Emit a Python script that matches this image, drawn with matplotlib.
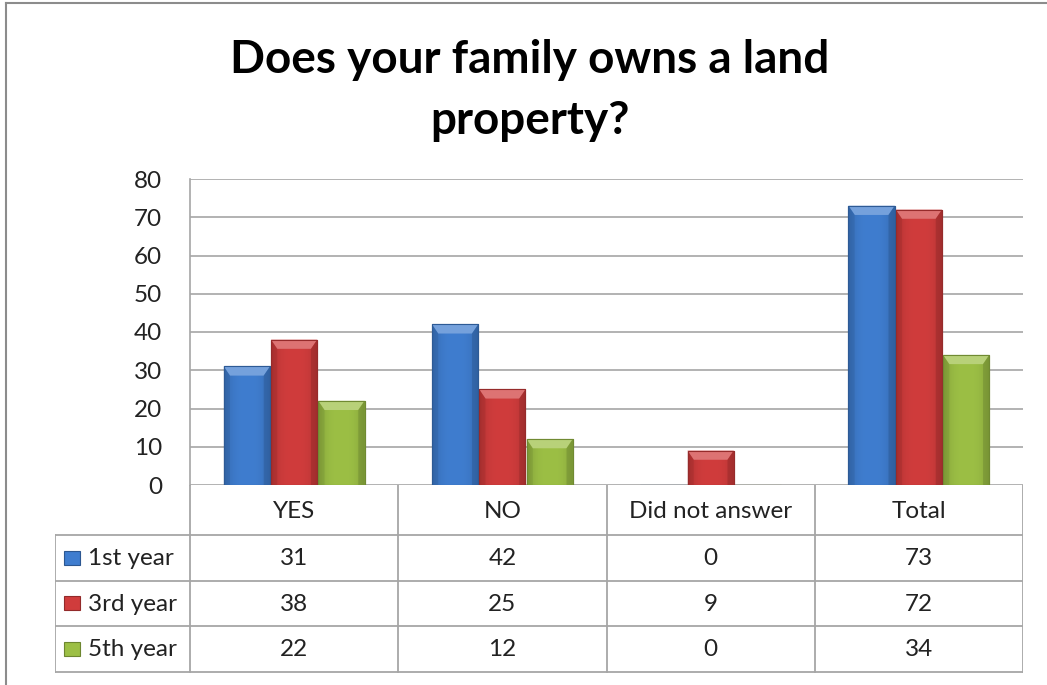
"""
Clustered bar chart with an Excel-style data table underneath:
land property ownership by year of study.
"""
import matplotlib

matplotlib.use("Agg")
import matplotlib.pyplot as plt
import matplotlib.colors as mcolors
import numpy as np
from matplotlib.patches import Polygon, Rectangle

plt.rcParams["font.family"] = ["Lato", "DejaVu Sans"]

TITLE = "Does your family owns a land\nproperty?"
CATEGORIES = ["YES", "NO", "Did not answer", "Total"]
SERIES = ["1st year", "3rd year", "5th year"]
FIRST_YEAR = [31, 42, 0, 73]
THIRD_YEAR = [38, 25, 9, 72]
FIFTH_YEAR = [22, 12, 0, 34]
Y_TICKS = [0, 10, 20, 30, 40, 50, 60, 70, 80]

COLORS = ["#3f7dcf", "#d03c3c", "#9cbf45"]
GRID = "#a6a6a6"
TEXT = "#222222"

W, H = 1047, 685
fig = plt.figure(figsize=(W / 100, H / 100), dpi=100)


def px_axes(left, top, right, bottom):
    """Add axes from pixel coordinates (origin at top-left)."""
    return fig.add_axes([left / W, 1 - bottom / H, (right - left) / W, (bottom - top) / H])


# outer chart border (only left and top are visible in the crop)
fig.add_artist(plt.Line2D([6 / W, 6 / W], [0, 1 - 3 / H], color="#8c8c8c", lw=1.5))
fig.add_artist(plt.Line2D([6 / W, 1], [1 - 3 / H, 1 - 3 / H], color="#8c8c8c", lw=1.5))

fig.text(530 / W, 1 - 60 / H, TITLE.split("\n")[0], ha="center", va="center",
         fontsize=33, fontweight="bold")
fig.text(530 / W, 1 - 121 / H, TITLE.split("\n")[1], ha="center", va="center",
         fontsize=33, fontweight="bold")

ax = px_axes(190, 179, 1023, 485)
ax.set_xlim(-0.5, len(CATEGORIES) - 0.5)
ax.set_ylim(0, 80)
ax.set_yticks(Y_TICKS)
ax.tick_params(axis="y", length=0, pad=20, labelsize=17.5, colors=TEXT)
ax.tick_params(axis="x", length=0, labelbottom=False)
ax.grid(axis="y", color=GRID, lw=1.2)
ax.set_axisbelow(True)
for side in ["top", "right", "bottom"]:
    ax.spines[side].set_visible(False)
ax.spines["left"].set_color(GRID)
ax.spines["left"].set_linewidth(1.2)

bar_w = 0.222
x = np.arange(len(CATEGORIES))
bevel_h = 2.4  # data units
bevel_x = 0.03

for k, (vals, col) in enumerate(zip([FIRST_YEAR, THIRD_YEAR, FIFTH_YEAR], COLORS)):
    base = np.array(mcolors.to_rgb(col))
    dark = base * 0.72
    light = np.clip(base + (1 - base) * 0.28, 0, 1)
    xs = x + (k - 1) * (bar_w + 0.005)
    bars = ax.bar(xs, vals, width=bar_w, color=col, edgecolor=dark, lw=0.8, zorder=3)
    for rect, v in zip(bars, vals):
        if v <= 0:
            continue
        x0, x1 = rect.get_x(), rect.get_x() + rect.get_width()
        # horizontal shading: darker at the sides
        grad = np.linspace(-1, 1, 64)
        shade = 1 - 0.18 * np.abs(grad) ** 3
        img = np.clip(base[None, None, :] * shade[None, :, None], 0, 1)
        im = ax.imshow(img, extent=[x0, x1, 0, v], aspect="auto", zorder=3.5,
                       interpolation="bilinear")
        im.set_clip_path(rect)
        bh = min(bevel_h, v / 2)
        top = Polygon([[x0, v], [x1, v], [x1 - bevel_x, v - bh], [x0 + bevel_x, v - bh]],
                      closed=True, facecolor=light, edgecolor="none", zorder=4)
        ax.add_patch(top)
        side_l = Polygon([[x0, v], [x0 + bevel_x, v - bh], [x0 + bevel_x, 0], [x0, 0]],
                         closed=True, facecolor=dark, alpha=0.3, edgecolor="none", zorder=4)
        side_r = Polygon([[x1, v], [x1 - bevel_x, v - bh], [x1 - bevel_x, 0], [x1, 0]],
                         closed=True, facecolor=dark, alpha=0.5, edgecolor="none", zorder=4)
        ax.add_patch(side_l)
        ax.add_patch(side_r)
        ax.add_patch(Rectangle((x0, 0), x1 - x0, v, facecolor="none",
                               edgecolor=dark, lw=0.8, zorder=5))

# data table
tab = px_axes(55, 485, 1023, 673)
left_col = (190 - 55) / ((1023 - 190) / len(CATEGORIES))
tab.set_xlim(-0.5 - left_col, len(CATEGORIES) - 0.5)
tab.set_ylim(673, 485)
tab.axis("off")
row_edges = [485, 535, 580.5, 626, 672]
line_kw = dict(color=GRID, lw=1.3, solid_capstyle="projecting")
x_left = -0.5 - left_col
x_right = len(CATEGORIES) - 0.5
for y in row_edges[1:]:
    tab.plot([x_left, x_right], [y, y], **line_kw)
tab.plot([x_left, x_left], [row_edges[1], row_edges[-1]], **line_kw)
for b in np.arange(len(CATEGORIES) + 1) - 0.5:
    tab.plot([b, b], [row_edges[0], row_edges[-1]], **line_kw)

txt_kw = dict(ha="center", va="center", fontsize=17.5, color=TEXT)
for i, cat in enumerate(CATEGORIES):
    tab.text(i, (row_edges[0] + row_edges[1]) / 2 + 1, cat, **txt_kw)
for r, (name, vals, col) in enumerate(zip(SERIES, [FIRST_YEAR, THIRD_YEAR, FIFTH_YEAR], COLORS)):
    yc = (row_edges[r + 1] + row_edges[r + 2]) / 2
    for i, v in enumerate(vals):
        tab.text(i, yc + 1, str(v), **txt_kw)
    tab.text(x_left + 0.16, yc + 1, name, ha="left", va="center", fontsize=17.5, color=TEXT)
    key = Rectangle((x_left + 0.045, yc - 7), 0.075, 14, facecolor=col,
                    edgecolor=np.array(mcolors.to_rgb(col)) * 0.7, lw=0.8)
    tab.add_patch(key)

fig.savefig("out.png", dpi=100)
